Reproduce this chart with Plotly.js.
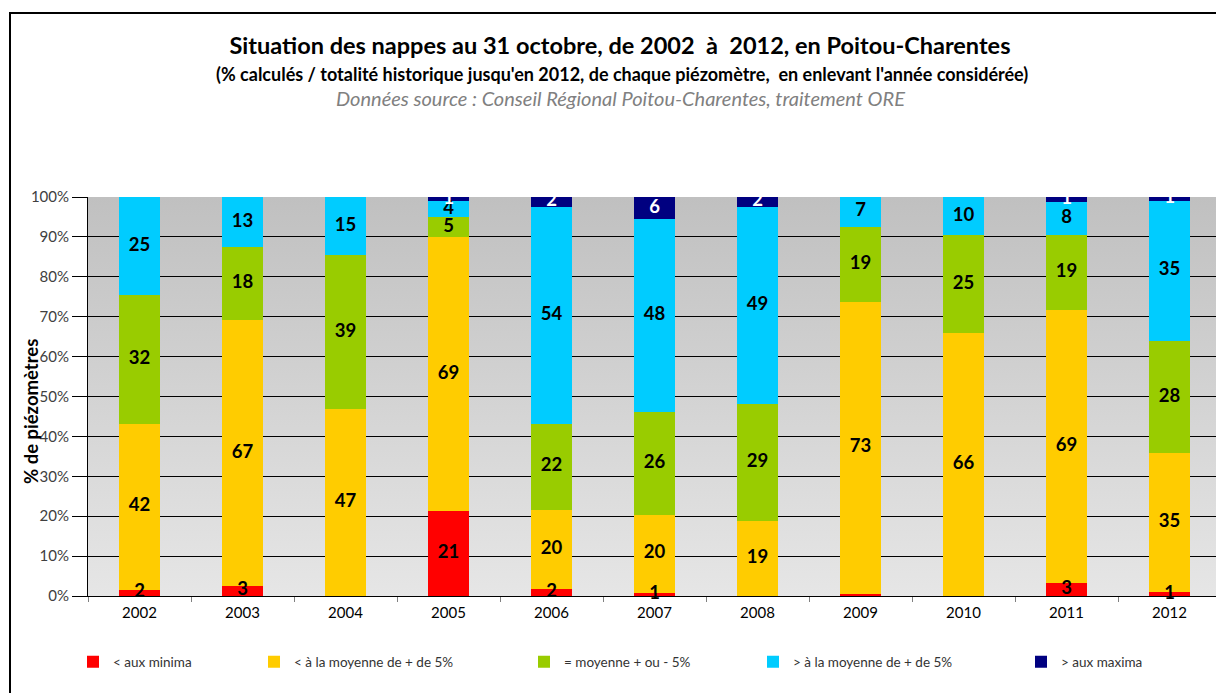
<!DOCTYPE html>
<html>
<head>
<meta charset="utf-8">
<script src="https://cdn.plot.ly/plotly-3.0.1.min.js"></script>
<style>
html, body { margin: 0; padding: 0; overflow: hidden; background: #ffffff; }
#chart { width: 1232px; height: 693px; }
</style>
</head>
<body>
<div id="chart"></div>
<script>
// ---- Data (percent of piezometers per year) ----
const years = ['2002','2003','2004','2005','2006','2007','2008','2009','2010','2011','2012'];

const seriesNames = ['< aux minima', '< à la moyenne de + de 5%', '= moyenne + ou - 5%', '> à la moyenne de + de 5%', '> aux maxima'];

const minima   = [1.6, 2.6, 0.0, 21.3, 1.7, 0.8, 0.0, 0.6, 0.0, 3.2, 1.0];
const belowAvg = [41.6, 66.5, 46.9, 68.7, 19.9, 19.6, 18.8, 73.1, 65.9, 68.6, 34.8];
const average  = [32.2, 18.3, 38.5, 5.0, 21.6, 25.8, 29.4, 18.9, 24.6, 18.6, 28.2];
const aboveAvg = [24.6, 12.6, 14.6, 4.0, 54.4, 48.3, 49.4, 7.4, 9.5, 8.4, 35.1];
const maxima   = [0.0, 0.0, 0.0, 1.0, 2.4, 5.5, 2.4, 0.0, 0.0, 1.2, 0.9];

// printed data labels
const minimaLbl   = ['2','3','','21','2','1','','','','3','1'];
const belowAvgLbl = ['42','67','47','69','20','20','19','73','66','69','35'];
const averageLbl  = ['32','18','39','5','22','26','29','19','25','19','28'];
const aboveAvgLbl = ['25','13','15','4','54','48','49','7','10','8','35'];
const maximaLbl   = ['','','','1','2','6','2','','','1','1'];

const yTicks = [0,10,20,30,40,50,60,70,80,90,100];

// ---- Styles ----
const colors = ['#ff0000', '#ffcc00', '#99cc00', '#00ccff', '#000080'];
const labelColors = ['#000000', '#000000', '#000000', '#000000', '#ffffff'];
const FONT = 'Lato, "Open Sans", sans-serif';

const values = [minima, belowAvg, average, aboveAvg, maxima];
const labels = [minimaLbl, belowAvgLbl, averageLbl, aboveAvgLbl, maximaLbl];

const barTraces = values.map((v, i) => ({
  type: 'bar',
  name: seriesNames[i],
  x: years,
  y: v,
  marker: { color: colors[i], line: { width: 0 } },
  width: 0.4,
  legend: i === 0 ? 'legend' : 'legend' + (i + 1),
  showlegend: true,
  hoverinfo: 'x+y+name'
}));

// data labels centred in each stacked segment
const cumul = years.map(() => 0);
const labelTraces = values.map((v, i) => {
  const mids = v.map((val, j) => {
    const m = cumul[j] + val / 2;
    cumul[j] += val;
    return m;
  });
  return {
    type: 'scatter',
    mode: 'text',
    x: years,
    y: mids,
    text: labels[i],
    textposition: 'middle center',
    textfont: { family: FONT, size: 18.5, color: labelColors[i], weight: 'bold' },
    cliponaxis: false,
    showlegend: false,
    hoverinfo: 'skip'
  };
});

// plot area geometry helpers (pixels -> paper)
const L = 88, W = 1133, T = 197, H = 399, B0 = T + H;
const px2x = p => (p - L) / W;
const py2y = p => (B0 - p) / H;

const legendTextStart = [113, 294, 564, 793, 1061];

const gradSvg = "<svg xmlns='http://www.w3.org/2000/svg' width='10' height='100' viewBox='0 0 10 100' preserveAspectRatio='none'>" +
  "<defs><linearGradient id='g' x1='0' y1='0' x2='0' y2='1'>" +
  "<stop offset='0' stop-color='#c0c0c0'/><stop offset='1' stop-color='#e6e6e6'/>" +
  "</linearGradient></defs><rect x='0' y='0' width='10' height='100' fill='url(#g)'/></svg>";

const layout = {
  width: 1232,
  height: 693,
  margin: { l: L, r: 1232 - L - W, t: T, b: 693 - B0, pad: 0, autoexpand: false },
  paper_bgcolor: '#ffffff',
  plot_bgcolor: 'rgba(0,0,0,0)',
  barmode: 'stack',
  bargap: 0.6,
  showlegend: true,
  font: { family: FONT, color: '#000000' },
  title: {
    text: '<b>Situation des nappes au 31 octobre, de 2002  à  2012, en Poitou-Charentes</b>',
    font: { family: FONT, size: 23.5, color: '#000000' },
    x: 620 / 1232, xref: 'container', xanchor: 'center',
    y: 1 - 46 / 693, yref: 'container', yanchor: 'middle'
  },
  xaxis: {
    type: 'category',
    range: [-0.5, years.length - 0.5],
    showline: true, linecolor: '#000000', linewidth: 1,
    ticks: 'outside', tickson: 'boundaries', ticklen: 5, tickcolor: '#808080',
    tickfont: { family: FONT, size: 15, color: '#000000' },
    ticklabelstandoff: 3, automargin: false,
    showgrid: false, zeroline: false, fixedrange: true
  },
  yaxis: {
    range: [0, 100],
    tickvals: yTicks,
    ticktext: yTicks.map(t => t + '%'),
    showline: true, linecolor: '#000000', linewidth: 1,
    ticks: 'outside', ticklen: 15, tickcolor: '#000000',
    tickfont: { family: FONT, size: 15, color: '#404040' },
    automargin: false,
    showgrid: true, gridcolor: '#000000', gridwidth: 1,
    zeroline: false, fixedrange: true
  },
  images: [{
    source: 'data:image/svg+xml;charset=utf-8,' + encodeURIComponent(gradSvg),
    xref: 'paper', yref: 'paper', x: 0, y: 1, sizex: 1, sizey: 1,
    xanchor: 'left', yanchor: 'top', sizing: 'stretch', layer: 'below'
  }],
  annotations: [
    {
      text: "<b>(% calculés / totalité historique jusqu'en 2012, de chaque piézomètre,  en enlevant l'année considérée)</b>",
      xref: 'paper', yref: 'paper', x: px2x(622), y: py2y(74),
      xanchor: 'center', yanchor: 'middle', showarrow: false,
      font: { family: FONT, size: 18, color: '#000000' }
    },
    {
      text: '<i>Données source : Conseil Régional Poitou-Charentes, traitement ORE</i>',
      xref: 'paper', yref: 'paper', x: px2x(620), y: py2y(98),
      xanchor: 'center', yanchor: 'middle', showarrow: false,
      font: { family: FONT, size: 20, color: '#808080' }
    },
    {
      text: '<b>% de piézomètres</b>',
      xref: 'paper', yref: 'paper', x: px2x(31), y: py2y(412),
      xanchor: 'center', yanchor: 'middle', showarrow: false, textangle: -90,
      font: { family: FONT, size: 18.5, color: '#000000' }
    }
  ],
  shapes: [{
    type: 'path', xref: 'paper', yref: 'paper',
    path: 'M ' + px2x(10) + ',' + py2y(720) + ' L ' + px2x(10) + ',' + py2y(13) + ' L ' + px2x(1240) + ',' + py2y(13),
    line: { color: '#000000', width: 2 }
  }]
};

legendTextStart.forEach((p, i) => {
  const key = i === 0 ? 'legend' : 'legend' + (i + 1);
  layout[key] = {
    x: px2x(p - 40), y: py2y(662), xanchor: 'left', yanchor: 'middle',
    orientation: 'h', bgcolor: 'rgba(0,0,0,0)', borderwidth: 0,
    itemwidth: 30, visible: true,
    font: { family: FONT, size: 13.5, color: '#333333' }
  };
});

Plotly.newPlot('chart', barTraces.concat(labelTraces), layout, { displayModeBar: false, staticPlot: true });
</script>
</body>
</html>
